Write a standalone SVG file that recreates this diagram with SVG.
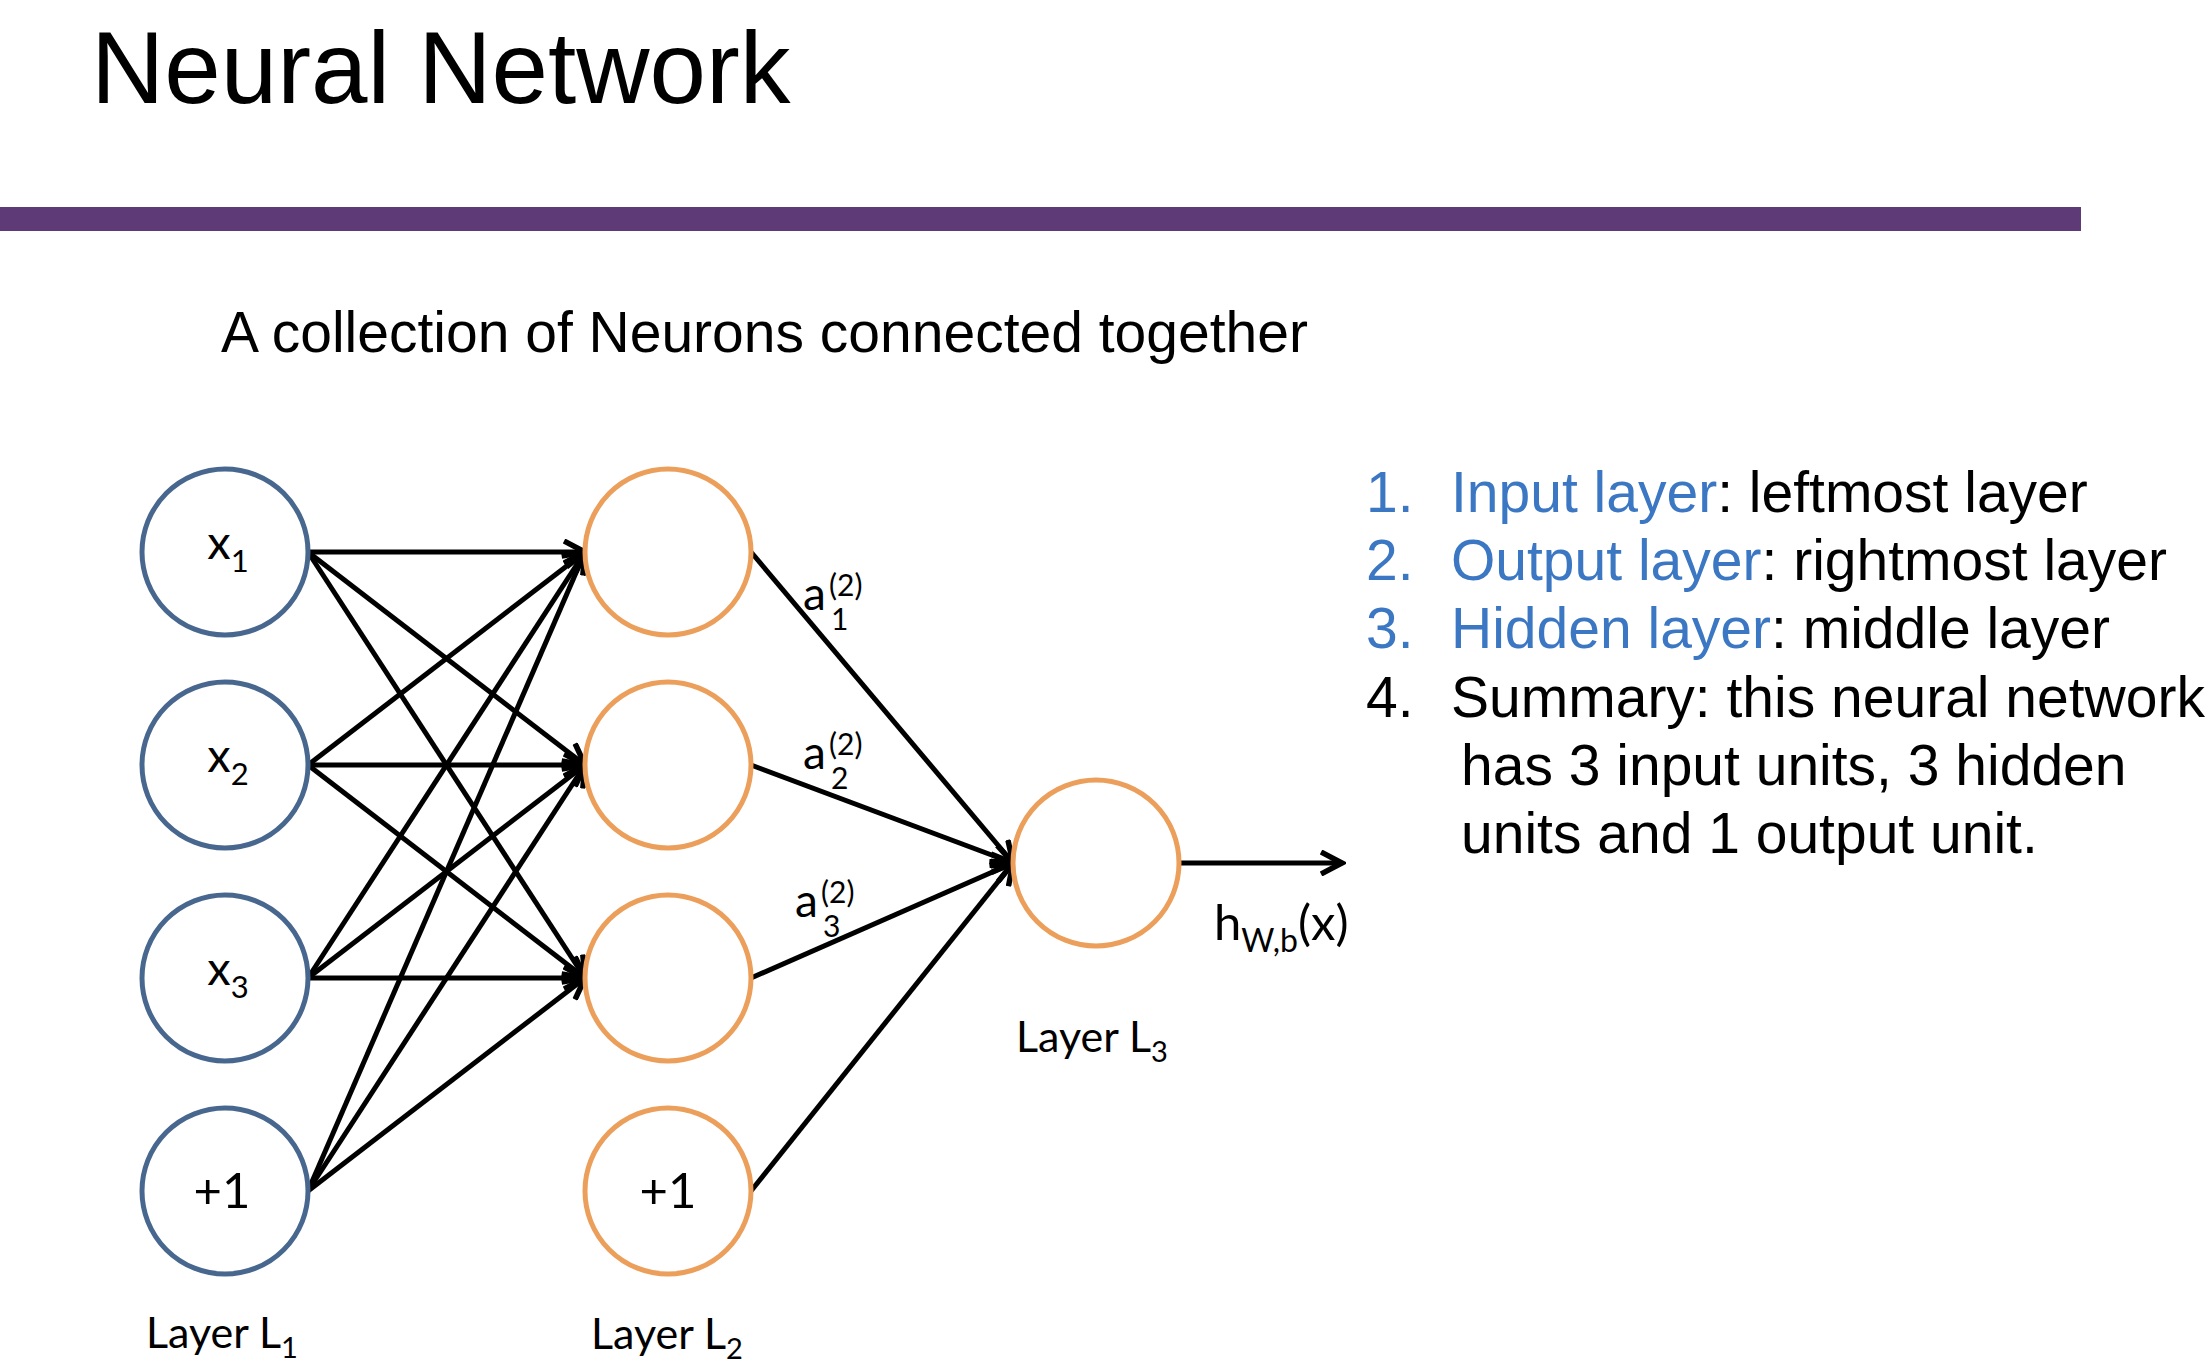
<svg xmlns="http://www.w3.org/2000/svg" width="2208" height="1372" viewBox="0 0 2208 1372">
  <style>
    .head { font-family: "Liberation Sans", Arial, sans-serif; fill: #000; }
    .list { font-family: "Liberation Sans", Arial, sans-serif; font-size: 57px; fill: #000; }
    .key { fill: #3b77c3; }
    .lbl { font-family: Lato, "Open Sans", sans-serif; fill: #000; }
    .in { fill: #fff; stroke: #48678f; stroke-width: 5; }
    .hid { fill: #fff; stroke: #eb9f5b; stroke-width: 5; }
    .edge { stroke: #000; stroke-width: 5; fill: none; marker-end: url(#head); }
  </style>
  <defs>
    <marker id="head" viewBox="0 0 26 26" refX="22" refY="13" markerWidth="26" markerHeight="26" markerUnits="userSpaceOnUse" orient="auto">
      <path d="M1,2 L22,13 L1,24" fill="none" stroke="#000" stroke-width="5.5" stroke-linejoin="miter"/>
    </marker>
  </defs>

  <rect width="2208" height="1372" fill="#fff"/>

  <!-- heading and rule -->
  <text class="head" x="91" y="103" font-size="101.5">Neural Network</text>
  <rect x="0" y="207" width="2081" height="24" fill="#5e3b76"/>
  <text class="head" x="221" y="352" font-size="57">A collection of Neurons connected together</text>

  <!-- connectors -->
  <g id="connectors">
    <!-- layer 1 to layer 2 -->
    <line class="edge" x1="308" y1="552" x2="585" y2="552"/>
    <line class="edge" x1="308" y1="552" x2="585" y2="765"/>
    <line class="edge" x1="308" y1="552" x2="585" y2="978"/>
    <line class="edge" x1="308" y1="765" x2="585" y2="552"/>
    <line class="edge" x1="308" y1="765" x2="585" y2="765"/>
    <line class="edge" x1="308" y1="765" x2="585" y2="978"/>
    <line class="edge" x1="308" y1="978" x2="585" y2="552"/>
    <line class="edge" x1="308" y1="978" x2="585" y2="765"/>
    <line class="edge" x1="308" y1="978" x2="585" y2="978"/>
    <line class="edge" x1="308" y1="1191" x2="585" y2="552"/>
    <line class="edge" x1="308" y1="1191" x2="585" y2="765"/>
    <line class="edge" x1="308" y1="1191" x2="585" y2="978"/>
    <!-- layer 2 to layer 3 -->
    <line class="edge" x1="751" y1="552" x2="1013" y2="863"/>
    <line class="edge" x1="751" y1="765" x2="1013" y2="863"/>
    <line class="edge" x1="751" y1="978" x2="1013" y2="863"/>
    <line class="edge" x1="751" y1="1191" x2="1013" y2="863"/>
    <!-- output -->
    <line class="edge" x1="1179" y1="863" x2="1342" y2="863"/>
  </g>

  <!-- layer 1 -->
  <g id="x1">
    <circle class="in" cx="225" cy="552" r="83"/>
    <text class="lbl" x="228" y="559" font-size="47" text-anchor="middle">x<tspan font-size="31" dy="13">1</tspan></text>
  </g>
  <g id="x2">
    <circle class="in" cx="225" cy="765" r="83"/>
    <text class="lbl" x="228" y="772" font-size="47" text-anchor="middle">x<tspan font-size="31" dy="13">2</tspan></text>
  </g>
  <g id="x3">
    <circle class="in" cx="225" cy="978" r="83"/>
    <text class="lbl" x="228" y="985" font-size="47" text-anchor="middle">x<tspan font-size="31" dy="13">3</tspan></text>
  </g>
  <g id="bias1">
    <circle class="in" cx="225" cy="1191" r="83"/>
    <text class="lbl" x="222" y="1208" font-size="49" text-anchor="middle">+1</text>
  </g>

  <!-- layer 2 -->
  <g id="a1">
    <circle class="hid" cx="668" cy="552" r="83"/>
  </g>
  <g id="a2">
    <circle class="hid" cx="668" cy="765" r="83"/>
  </g>
  <g id="a3">
    <circle class="hid" cx="668" cy="978" r="83"/>
  </g>
  <g id="bias2">
    <circle class="hid" cx="668" cy="1191" r="83"/>
    <text class="lbl" x="668" y="1208" font-size="49" text-anchor="middle">+1</text>
  </g>

  <!-- layer 3 -->
  <g id="out">
    <circle class="hid" cx="1096" cy="863" r="83"/>
  </g>

  <!-- activation labels -->
  <g id="act-labels" class="lbl">
    <text x="803" y="610" font-size="46">a</text>
    <text x="829" y="596" font-size="30">(2)</text>
    <text x="831" y="630" font-size="30">1</text>
    <text x="803" y="769" font-size="46">a</text>
    <text x="829" y="755" font-size="30">(2)</text>
    <text x="831" y="789" font-size="30">2</text>
    <text x="795" y="917" font-size="46">a</text>
    <text x="821" y="903" font-size="30">(2)</text>
    <text x="823" y="937" font-size="30">3</text>
  </g>
  <text class="lbl" x="1214" y="940" font-size="49">h<tspan font-size="32" dy="12">W,b</tspan><tspan dy="-12">(x)</tspan></text>

  <!-- layer captions -->
  <text class="lbl" x="146" y="1348" font-size="43">Layer L<tspan font-size="29" dy="10">1</tspan></text>
  <text class="lbl" x="591" y="1349" font-size="43">Layer L<tspan font-size="29" dy="10">2</tspan></text>
  <text class="lbl" x="1016" y="1052" font-size="43">Layer L<tspan font-size="29" dy="10">3</tspan></text>

  <!-- notes -->
  <g id="notes" class="list">
    <text x="1366" y="512" class="key">1.</text>
    <text x="1451" y="512"><tspan class="key">Input layer</tspan>: leftmost layer</text>
    <text x="1366" y="580" class="key">2.</text>
    <text x="1451" y="580"><tspan class="key">Output layer</tspan>: rightmost layer</text>
    <text x="1366" y="648" class="key">3.</text>
    <text x="1451" y="648"><tspan class="key">Hidden layer</tspan>: middle layer</text>
    <text x="1366" y="717">4.</text>
    <text x="1451" y="717">Summary: this neural network</text>
    <text x="1461" y="785">has 3 input units, 3 hidden</text>
    <text x="1461" y="853">units and 1 output unit.</text>
  </g>
</svg>
